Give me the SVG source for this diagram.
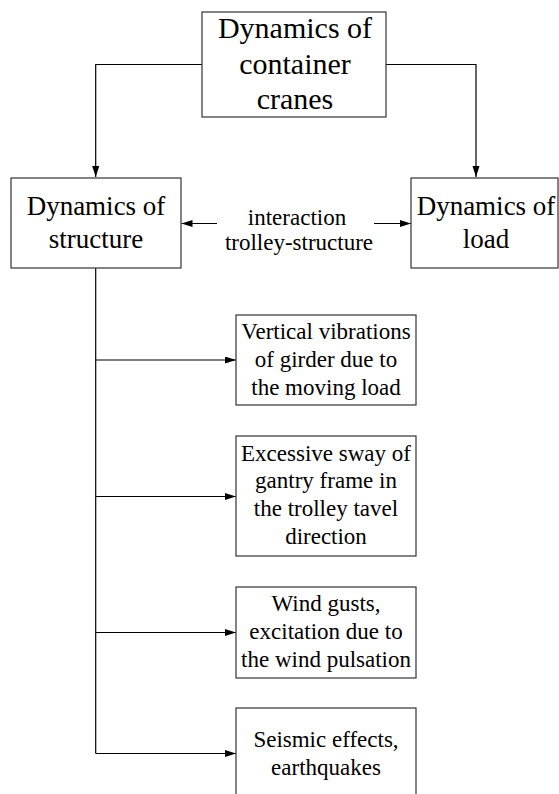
<svg xmlns="http://www.w3.org/2000/svg" width="559" height="794" viewBox="0 0 559 794">
<defs>
<marker id="ah" markerWidth="12" markerHeight="8" refX="11" refY="3.5" orient="auto" markerUnits="userSpaceOnUse">
<path d="M0,0 L11,3.5 L0,7 Z" fill="#000"/>
</marker>
<style>
rect.box{fill:#fff;stroke:#333;stroke-width:1.2}
text{fill:#000;text-anchor:middle}
.t30{font-size:30px}
.t27{font-size:27px}
.t23{font-size:23px}
.conn{fill:none;stroke:#000;stroke-width:1.2}
</style>
</defs>
<rect width="559" height="794" fill="#fff"/>
<g id="connectors">
<path class="conn" d="M202,64.5 H95.7 V177" marker-end="url(#ah)"/>
<path class="conn" d="M386,64.5 H476 V177" marker-end="url(#ah)"/>
<path class="conn" d="M217,223.5 H181.5" marker-end="url(#ah)"/>
<path class="conn" d="M374,223.5 H411" marker-end="url(#ah)"/>
<path class="conn" d="M95.7,268 V753.5"/>
<path class="conn" d="M95.7,360 H236" marker-end="url(#ah)"/>
<path class="conn" d="M95.7,496.5 H236" marker-end="url(#ah)"/>
<path class="conn" d="M95.7,632.5 H236" marker-end="url(#ah)"/>
<path class="conn" d="M95.7,753.5 H236" marker-end="url(#ah)"/>
</g>
<g font-family="Liberation Serif, Tinos, Times New Roman, DejaVu Serif, serif">
<g id="node-cranes">
<rect class="box" x="202" y="12" width="184" height="105"/>
<text class="t30" x="295" y="38">Dynamics of</text>
<text class="t30" x="295" y="73.5">container</text>
<text class="t30" x="295" y="109">cranes</text>
</g>
<g id="node-structure">
<rect class="box" x="11" y="178" width="170" height="90"/>
<text class="t27" x="96" y="215">Dynamics of</text>
<text class="t27" x="96" y="247.5">structure</text>
</g>
<g id="node-load">
<rect class="box" x="411" y="178" width="147" height="90"/>
<text class="t27" x="486" y="215">Dynamics of</text>
<text class="t27" x="486" y="247.5">load</text>
</g>
<g id="label-interaction">
<text class="t23" x="297" y="225">interaction</text>
<text class="t23" x="299" y="250">trolley-structure</text>
</g>
<g id="node-vertical">
<rect class="box" x="236" y="315" width="180" height="90"/>
<text class="t23" x="326" y="338.5">Vertical vibrations</text>
<text class="t23" x="326" y="366.5">of girder due to</text>
<text class="t23" x="326" y="394.5">the moving load</text>
</g>
<g id="node-sway">
<rect class="box" x="236" y="436" width="180" height="120"/>
<text class="t23" x="326" y="460.5">Excessive sway of</text>
<text class="t23" x="326" y="488">gantry frame in</text>
<text class="t23" x="326" y="516">the trolley tavel</text>
<text class="t23" x="326" y="544">direction</text>
</g>
<g id="node-wind">
<rect class="box" x="236" y="587" width="180" height="91"/>
<text class="t23" x="326" y="610.5">Wind gusts,</text>
<text class="t23" x="326" y="639">excitation due to</text>
<text class="t23" x="326" y="667">the wind pulsation</text>
</g>
<g id="node-seismic">
<rect class="box" x="236" y="708" width="180" height="100"/>
<text class="t23" x="326" y="747">Seismic effects,</text>
<text class="t23" x="326" y="774.5">earthquakes</text>
</g>
</g>
</svg>
